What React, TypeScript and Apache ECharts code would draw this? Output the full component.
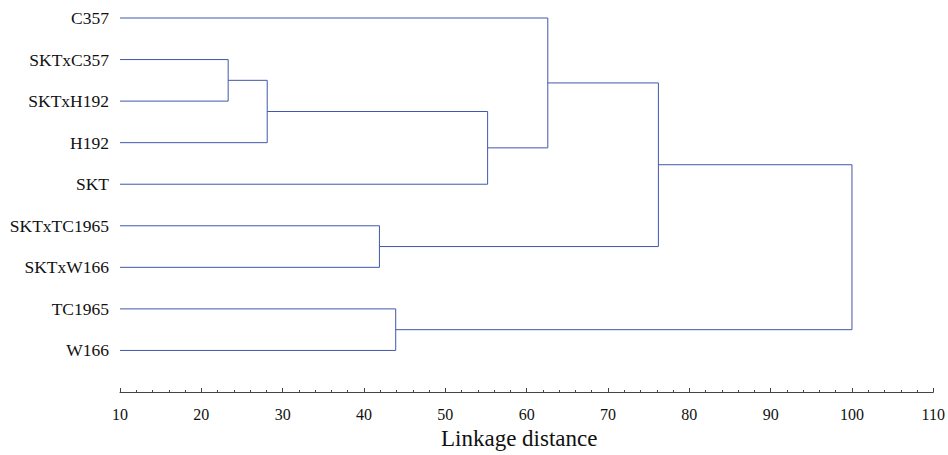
import React, { useEffect, useRef } from "react";
import * as echarts from "echarts";

// Leaves, top to bottom
const leaves = ["C357", "SKTxC357", "SKTxH192", "H192", "SKT", "SKTxTC1965", "SKTxW166", "TC1965", "W166"];
// Merges: children indices (0..8 leaves, 9+ previous merges) and linkage distance
const mergeA = [1, 9, 10, 0, 5, 12, 7, 14];
const mergeB = [2, 3, 4, 11, 6, 13, 8, 15];
const mergeHeight = [23.3, 28.1, 55.2, 62.6, 41.9, 76.2, 43.9, 100];
const xTicks = [10, 20, 30, 40, 50, 60, 70, 80, 90, 100, 110];

const AXIS_MIN = xTicks[0];
const AXIS_MAX = xTicks[xTicks.length - 1];
const LINE_COLOR = "#4357ab";
const FONT = "'Liberation Serif', 'Times New Roman', serif";

function buildSeries() {
  const nodeY: number[] = leaves.map((_, i) => i);
  const nodeH: number[] = leaves.map(() => AXIS_MIN);
  const series: any[] = [];
  mergeA.forEach((a, k) => {
    const b = mergeB[k];
    const h = mergeHeight[k];
    series.push({
      type: "line",
      data: [
        [nodeH[a], nodeY[a]],
        [h, nodeY[a]],
        [h, nodeY[b]],
        [nodeH[b], nodeY[b]],
      ],
      symbol: "none",
      silent: true,
      lineStyle: { color: LINE_COLOR, width: 1 },
      clip: false,
    });
    nodeY.push((nodeY[a] + nodeY[b]) / 2);
    nodeH.push(h);
  });
  return series;
}

export default function App() {
  const ref = useRef<HTMLDivElement>(null);
  useEffect(() => {
    if (!ref.current) return;
    const chart = echarts.init(ref.current, null, { renderer: "svg" });
    chart.setOption({
      animation: false,
      backgroundColor: "#ffffff",
      grid: { left: 120, right: 14, top: 18, bottom: 63, containLabel: false },
      xAxis: {
        type: "value",
        min: AXIS_MIN,
        max: AXIS_MAX,
        interval: 10,
        axisLine: { show: true, onZero: false, lineStyle: { color: "#444", width: 1 } },
        axisTick: { show: true, inside: true, length: 4, lineStyle: { color: "#444" } },
        minorTick: { show: true, splitNumber: 5, length: 2, lineStyle: { color: "#444" } },
        splitLine: { show: false },
        minorSplitLine: { show: false },
        axisLabel: {
          color: "#111",
          fontFamily: FONT,
          fontSize: 16,
          margin: 14,
          formatter: (v: number) => String(v),
        },
      },
      yAxis: {
        type: "value",
        inverse: true,
        min: 0,
        max: leaves.length,
        interval: 1,
        axisLine: { show: false },
        axisTick: { show: false },
        splitLine: { show: false },
        axisLabel: {
          color: "#111",
          fontFamily: FONT,
          fontSize: 17.5,
          margin: 11,
          formatter: (v: number) => (v >= 0 && v < leaves.length ? leaves[v] : ""),
        },
      },
      graphic: [
        {
          type: "text",
          left: 441,
          top: 427,
          style: {
            text: "Linkage distance",
            fontFamily: FONT,
            fontSize: 23,
            fill: "#111",
          },
        },
      ],
      series: buildSeries(),
    });
    return () => chart.dispose();
  }, []);
  return <div ref={ref} style={{ width: 948, height: 455, position: "absolute", left: 0, top: 0 }} />;
}
